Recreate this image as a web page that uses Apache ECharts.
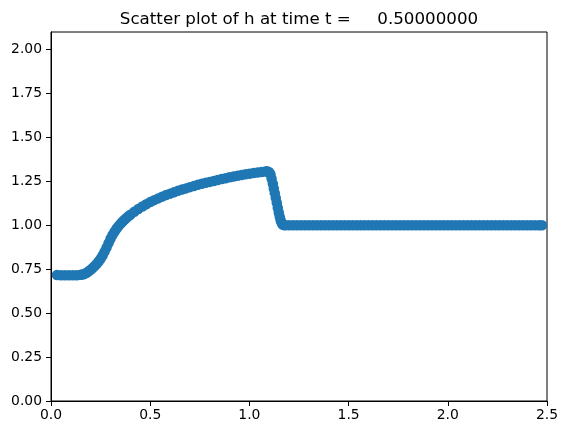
<!DOCTYPE html>
<html>
<head>
<meta charset="utf-8">
<script src="https://cdn.jsdelivr.net/npm/echarts@6/dist/echarts.min.js"></script>
<style>
html, body { margin: 0; padding: 0; background: #fff; }
#chart { width: 567px; height: 435px; }
</style>
</head>
<body>
<div id="chart"></div>
<script>
// x positions of particles
var xRise = [0.03, 0.05, 0.07, 0.09, 0.11, 0.13, 0.15, 0.16, 0.17, 0.18, 0.19, 0.20, 0.21, 0.22, 0.23, 0.24, 0.25, 0.26, 0.27, 0.28, 0.29, 0.30, 0.31, 0.32, 0.33, 0.34, 0.35, 0.36, 0.37, 0.38, 0.39, 0.40, 0.42, 0.44, 0.46, 0.48, 0.50, 0.52, 0.54, 0.56, 0.58, 0.60, 0.62, 0.64, 0.66, 0.68, 0.70, 0.72, 0.74, 0.76, 0.78, 0.80, 0.82, 0.84, 0.86, 0.88, 0.90, 0.92, 0.94, 0.96, 0.98, 1.00, 1.02, 1.04, 1.06, 1.08, 1.09, 1.10];
var hRise = [0.717, 0.716, 0.715, 0.716, 0.715, 0.716, 0.718, 0.720, 0.724, 0.730, 0.738, 0.747, 0.757, 0.768, 0.780, 0.794, 0.810, 0.828, 0.850, 0.873, 0.898, 0.923, 0.945, 0.963, 0.980, 0.995, 1.008, 1.020, 1.031, 1.041, 1.051, 1.060, 1.077, 1.093, 1.107, 1.120, 1.132, 1.143, 1.153, 1.163, 1.172, 1.180, 1.188, 1.196, 1.203, 1.210, 1.217, 1.223, 1.230, 1.236, 1.242, 1.247, 1.252, 1.258, 1.263, 1.268, 1.273, 1.277, 1.282, 1.286, 1.290, 1.293, 1.297, 1.300, 1.303, 1.306, 1.307, 1.302];
var xDrop = [1.106, 1.112, 1.118, 1.123, 1.128, 1.133, 1.138, 1.143, 1.148, 1.153, 1.158, 1.163, 1.168, 1.174, 1.180];
var hDrop = [1.290, 1.265, 1.237, 1.210, 1.182, 1.155, 1.128, 1.100, 1.073, 1.048, 1.027, 1.012, 1.004, 1.001, 1.000];
var xFlat = [1.20, 1.22, 1.24, 1.26, 1.28, 1.30, 1.32, 1.34, 1.36, 1.38, 1.40, 1.42, 1.44, 1.46, 1.48, 1.50, 1.52, 1.54, 1.56, 1.58, 1.60, 1.62, 1.64, 1.66, 1.68, 1.70, 1.72, 1.74, 1.76, 1.78, 1.80, 1.82, 1.84, 1.86, 1.88, 1.90, 1.92, 1.94, 1.96, 1.98, 2.00, 2.02, 2.04, 2.06, 2.08, 2.10, 2.12, 2.14, 2.16, 2.18, 2.20, 2.22, 2.24, 2.26, 2.28, 2.30, 2.32, 2.34, 2.36, 2.38, 2.40, 2.42, 2.44, 2.46, 2.475];
var hFlat = [1.0, 1.0, 1.0, 1.0, 1.0, 1.0, 1.0, 1.0, 1.0, 1.0, 1.0, 1.0, 1.0, 1.0, 1.0, 1.0, 1.0, 1.0, 1.0, 1.0, 1.0, 1.0, 1.0, 1.0, 1.0, 1.0, 1.0, 1.0, 1.0, 1.0, 1.0, 1.0, 1.0, 1.0, 1.0, 1.0, 1.0, 1.0, 1.0, 1.0, 1.0, 1.0, 1.0, 1.0, 1.0, 1.0, 1.0, 1.0, 1.0, 1.0, 1.0, 1.0, 1.0, 1.0, 1.0, 1.0, 1.0, 1.0, 1.0, 1.0, 1.0, 1.0, 1.0, 1.0, 1.0];

var xTicks = [0, 0.5, 1.0, 1.5, 2.0, 2.5];
var yTicks = [0, 0.25, 0.5, 0.75, 1.0, 1.25, 1.5, 1.75, 2.0];
var titleText = 'Scatter plot of h at time t =     0.50000000';

function pairs(xs, ys) {
  var out = [];
  for (var i = 0; i < xs.length; i++) out.push([xs[i], ys[i]]);
  return out;
}
var points = pairs(xRise, hRise).concat(pairs(xDrop, hDrop), pairs(xFlat, hFlat));

var chart = echarts.init(document.getElementById('chart'), null, { renderer: 'canvas' });
var font = 'DejaVu Sans';
chart.setOption({
  animation: false,
  backgroundColor: '#ffffff',
  title: {
    text: titleText,
    left: 299,
    textAlign: 'center',
    top: 11,
    padding: 0,
    textStyle: { fontFamily: font, fontSize: 16.7, fontWeight: 'normal', color: '#000' }
  },
  grid: {
    left: 51, right: 20, top: 32, bottom: 34,
    show: true, borderColor: '#000', borderWidth: 1, backgroundColor: 'transparent'
  },
  xAxis: {
    type: 'value', min: 0, max: 2.5, interval: 0.5,
    splitLine: { show: false },
    axisLine: { show: true, onZero: false, lineStyle: { color: '#000', width: 1 } },
    axisTick: { show: true, length: 5, lineStyle: { color: '#000' }, customValues: xTicks },
    axisLabel: {
      customValues: xTicks,
      margin: 7, color: '#000', fontFamily: font, fontSize: 13.9,
      formatter: function (v) { return v.toFixed(1); }
    }
  },
  yAxis: {
    type: 'value', min: 0, max: 2.1,
    splitLine: { show: false },
    axisLine: { show: true, onZero: false, lineStyle: { color: '#000', width: 1 } },
    axisTick: { show: true, length: 5, lineStyle: { color: '#000' }, customValues: yTicks },
    axisLabel: {
      customValues: yTicks,
      margin: 9, color: '#000', fontFamily: font, fontSize: 13.9,
      formatter: function (v) { return v.toFixed(2); }
    }
  },
  series: [{
    type: 'scatter',
    data: points,
    symbol: 'circle',
    symbolSize: 10.5,
    itemStyle: { color: '#1f77b4', opacity: 1 },
    emphasis: { disabled: true }
  }]
});
</script>
</body>
</html>
